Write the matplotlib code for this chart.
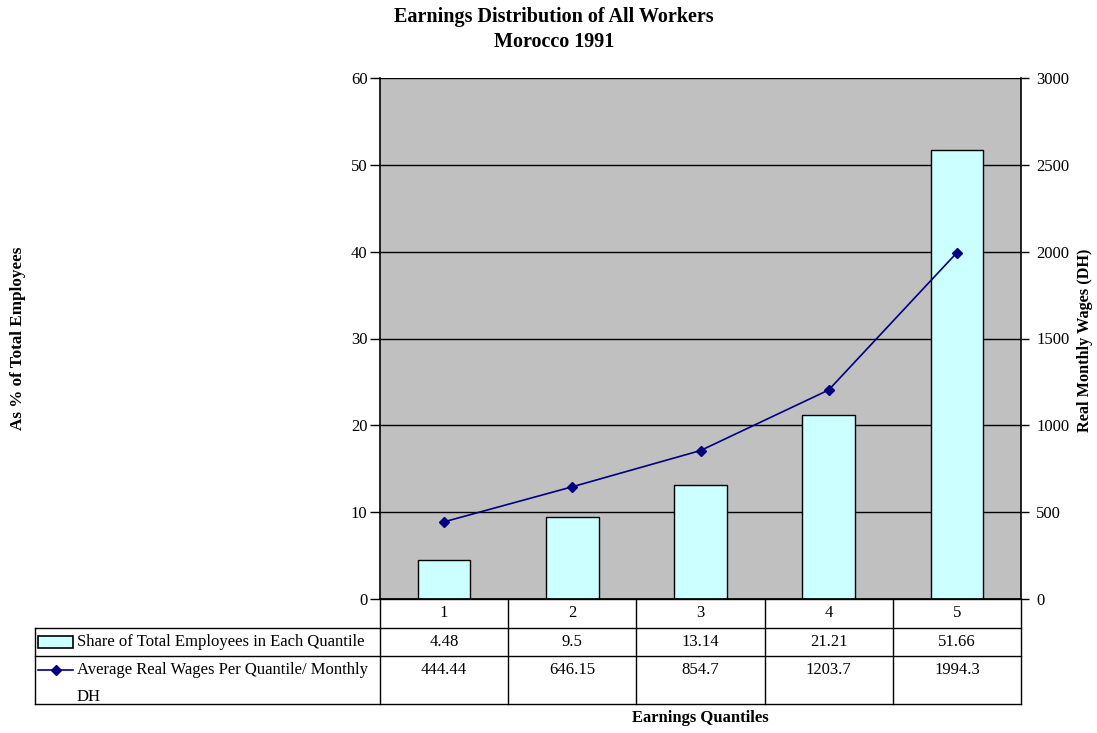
import matplotlib
matplotlib.use("Agg")
import matplotlib.pyplot as plt
from matplotlib.lines import Line2D
from matplotlib.patches import Rectangle

plt.rcParams['font.family'] = ['Liberation Serif', 'DejaVu Serif']

categories = ["1", "2", "3", "4", "5"]
share = [4.48, 9.5, 13.14, 21.21, 51.66]
wages = [444.44, 646.15, 854.7, 1203.7, 1994.3]
share_label = "Share of Total Employees in Each Quantile"
wage_label_lines = ["Average Real Wages Per Quantile/ Monthly", "DH"]

W, H = 1097, 733
fig = plt.figure(figsize=(W / 100, H / 100), dpi=100)

def fx(px):
    return px / W

def fy(py):
    return 1 - py / H

L, R, T, B = 380, 1021, 78, 599
ax = fig.add_axes([fx(L), fy(B), fx(R) - fx(L), fy(T) - fy(B)])
ax.set_facecolor('#C0C0C0')
x = list(range(len(categories)))
ax.set_xlim(-0.5, len(categories) - 0.5)
ax.set_ylim(0, 60)
ax.set_yticks(range(0, 61, 10))
ax.yaxis.grid(True, color='black', linewidth=1)
ax.set_axisbelow(True)
ax.bar(x, share, width=0.41, color='#CCFFFF', edgecolor='black', linewidth=1, zorder=2)
ax.set_xticks([])
ax.spines['top'].set_visible(False)
ax.spines['left'].set_linewidth(1.2)
ax.spines['bottom'].set_linewidth(1.2)
ax.spines['right'].set_visible(False)
ax.tick_params(axis='y', length=7, width=1, labelsize=12, direction='out', pad=2)

ax2 = ax.twinx()
ax2.set_ylim(0, 3000)
ax2.set_yticks(range(0, 3001, 500))
ax2.plot(x, wages, color='#000080', marker='D', markersize=5, linewidth=1.2, zorder=3)
ax2.spines['top'].set_visible(False)
ax2.spines['left'].set_visible(False)
ax2.spines['bottom'].set_visible(False)
ax2.spines['right'].set_linewidth(1.2)
ax2.tick_params(axis='y', length=6, width=1, labelsize=12, direction='out', pad=5)

# Titles and labels
fig.text(fx(554), fy(17), "Earnings Distribution of All Workers", ha='center', va='center',
         fontsize=14.5, fontweight='bold')
fig.text(fx(554), fy(42), "Morocco 1991", ha='center', va='center',
         fontsize=14.5, fontweight='bold')
fig.text(fx(18), fy(338), "As % of Total Employees", rotation=90, ha='center', va='center',
         fontsize=12.3, fontweight='bold')
fig.text(fx(1085), fy(340), "Real Monthly Wages (DH)", rotation=90, ha='center', va='center',
         fontsize=11.7, fontweight='bold')
fig.text(fx(700), fy(718), "Earnings Quantiles", ha='center', va='center',
         fontsize=12, fontweight='bold')

# Data table
colw = (R - L) / len(categories)
rows = [599, 628, 656, 704]
LL = 35
lw = 1
def hline(x0, x1, y):
    fig.add_artist(Line2D([fx(x0), fx(x1)], [fy(y), fy(y)], color='black', linewidth=lw))
def vline(xp, y0, y1):
    fig.add_artist(Line2D([fx(xp), fx(xp)], [fy(y0), fy(y1)], color='black', linewidth=lw))

hline(L, R, rows[0])
hline(LL, R, rows[1])
hline(LL, R, rows[2])
hline(LL, R, rows[3])
vline(LL, rows[1], rows[3])
for i in range(len(categories) + 1):
    vline(L + i * colw, rows[0], rows[3])

tfs = 12
for i, c in enumerate(categories):
    cx = L + (i + 0.5) * colw
    fig.text(fx(cx), fy(613), c, ha='center', va='center', fontsize=tfs)
    fig.text(fx(cx), fy(642), f"{share[i]:g}", ha='center', va='center', fontsize=tfs)
    fig.text(fx(cx), fy(670), f"{wages[i]:g}", ha='center', va='center', fontsize=tfs)

# legend keys
fig.add_artist(Rectangle((fx(38), fy(648)), fx(73) - fx(38), fy(636) - fy(648),
                         facecolor='#CCFFFF', edgecolor='black', linewidth=1.2))
fig.text(fx(77), fy(642), share_label, ha='left', va='center', fontsize=tfs)
fig.add_artist(Line2D([fx(38), fx(73)], [fy(670), fy(670)], color='#000080', linewidth=1.2))
fig.add_artist(Line2D([fx(55.5)], [fy(670)], color='#000080', marker='D', markersize=5))
fig.text(fx(77), fy(670), wage_label_lines[0], ha='left', va='center', fontsize=tfs)
fig.text(fx(77), fy(697), wage_label_lines[1], ha='left', va='center', fontsize=tfs)

fig.savefig("out.png", dpi=100)
